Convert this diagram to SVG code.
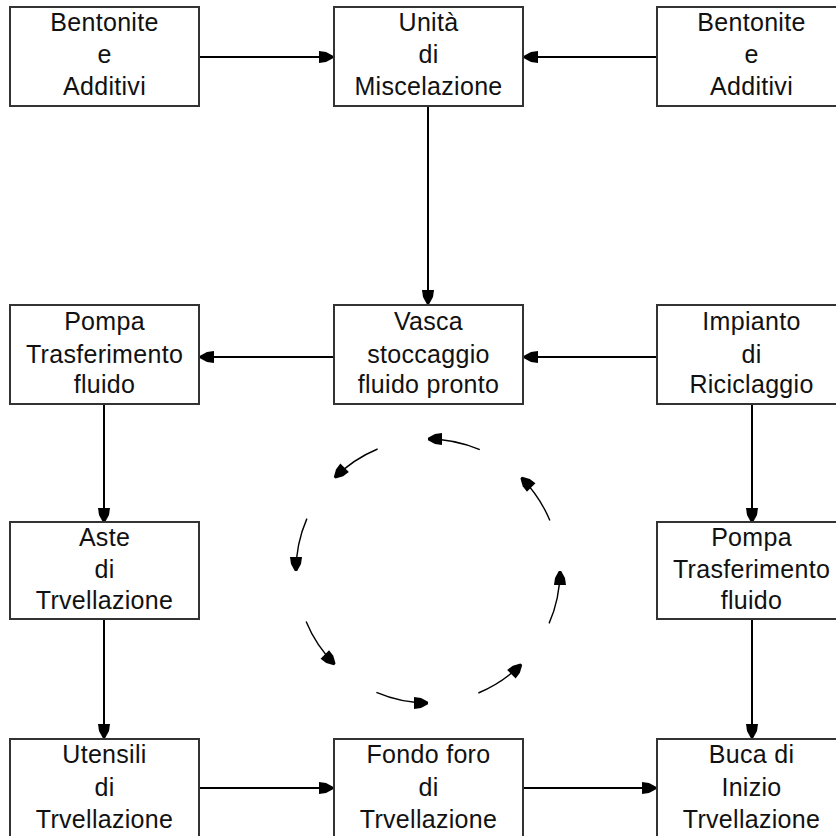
<svg xmlns="http://www.w3.org/2000/svg" width="836" height="836" viewBox="0 0 836 836">
<style>
.box{fill:#fff;stroke:#333;stroke-width:2}
.t{font-family:"Liberation Sans",Arial,sans-serif;font-size:25px;fill:#111;text-anchor:middle;letter-spacing:0.3px}
.c{fill:none;stroke:#000;stroke-width:2}
.a{fill:none;stroke:#000;stroke-width:1.4}
</style>
<defs>
<marker id="ah" viewBox="-15 -7 16 14" refX="0" refY="0" markerWidth="16" markerHeight="14" markerUnits="userSpaceOnUse" orient="auto">
<path d="M-14,-6 L-7,-5 L0,-1.2 L0,1.2 L-7,5 L-14,6 Z" fill="#000"/>
</marker>
</defs>
<rect width="836" height="836" fill="#fff"/>
<g id="connectors">
<line class="c" x1="199" y1="57" x2="333" y2="57" marker-end="url(#ah)"/>
<line class="c" x1="657" y1="57" x2="524" y2="57" marker-end="url(#ah)"/>
<line class="c" x1="428" y1="106" x2="428" y2="304" marker-end="url(#ah)"/>
<line class="c" x1="334" y1="357" x2="200" y2="357" marker-end="url(#ah)"/>
<line class="c" x1="657" y1="357" x2="524" y2="357" marker-end="url(#ah)"/>
<line class="c" x1="104" y1="404" x2="104" y2="522" marker-end="url(#ah)"/>
<line class="c" x1="752" y1="404" x2="752" y2="522" marker-end="url(#ah)"/>
<line class="c" x1="104" y1="619" x2="104" y2="738" marker-end="url(#ah)"/>
<line class="c" x1="752" y1="619" x2="752" y2="738" marker-end="url(#ah)"/>
<line class="c" x1="199" y1="788" x2="333" y2="788" marker-end="url(#ah)"/>
<line class="c" x1="523" y1="788" x2="656" y2="788" marker-end="url(#ah)"/>
</g>
<g id="cycle">
<path class="a" d="M479.8,449.7 A132,132 0 0 0 428,439" marker-end="url(#ah)"/>
<path class="a" d="M377.6,449.0 A132,132 0 0 0 334.7,477.7" marker-end="url(#ah)"/>
<path class="a" d="M306.9,518.6 A132,132 0 0 0 296,571" marker-end="url(#ah)"/>
<path class="a" d="M306.1,621.4 A132,132 0 0 0 334.7,664.3" marker-end="url(#ah)"/>
<path class="a" d="M376.4,692.4 A132,132 0 0 0 428,703" marker-end="url(#ah)"/>
<path class="a" d="M478.4,693.0 A132,132 0 0 0 521.3,664.3" marker-end="url(#ah)"/>
<path class="a" d="M549.1,623.4 A132,132 0 0 0 560,571" marker-end="url(#ah)"/>
<path class="a" d="M549.9,520.6 A132,132 0 0 0 521.3,477.7" marker-end="url(#ah)"/>
</g>
<g id="n1"><rect class="box" x="10" y="7" width="189" height="99"/>
<text class="t" x="104.5" y="31">Bentonite</text><text class="t" x="104.5" y="63">e</text><text class="t" x="104.5" y="95">Additivi</text></g>
<g id="n2"><rect class="box" x="334" y="7" width="189" height="99"/>
<text class="t" x="428.5" y="31">Unità</text><text class="t" x="428.5" y="63">di</text><text class="t" x="428.5" y="95">Miscelazione</text></g>
<g id="n3"><rect class="box" x="657" y="7" width="189" height="99"/>
<text class="t" x="751.5" y="31">Bentonite</text><text class="t" x="751.5" y="63">e</text><text class="t" x="751.5" y="95">Additivi</text></g>
<g id="n4"><rect class="box" x="10" y="305" width="189" height="99"/>
<text class="t" x="104.5" y="330">Pompa</text><text class="t" x="104.5" y="363">Trasferimento</text><text class="t" x="104.5" y="393">fluido</text></g>
<g id="n5"><rect class="box" x="334" y="305" width="189" height="99"/>
<text class="t" x="428.5" y="330">Vasca</text><text class="t" x="428.5" y="363">stoccaggio</text><text class="t" x="428.5" y="393">fluido pronto</text></g>
<g id="n6"><rect class="box" x="657" y="305" width="189" height="99"/>
<text class="t" x="751.5" y="330">Impianto</text><text class="t" x="751.5" y="363">di</text><text class="t" x="751.5" y="393">Riciclaggio</text></g>
<g id="n7"><rect class="box" x="10" y="522" width="189" height="97"/>
<text class="t" x="104.5" y="546">Aste</text><text class="t" x="104.5" y="578">di</text><text class="t" x="104.5" y="609">Trvellazione</text></g>
<g id="n8"><rect class="box" x="657" y="522" width="189" height="97"/>
<text class="t" x="751.5" y="546">Pompa</text><text class="t" x="751.5" y="578">Trasferimento</text><text class="t" x="751.5" y="609">fluido</text></g>
<g id="n9"><rect class="box" x="10" y="739" width="189" height="110"/>
<text class="t" x="104.5" y="763">Utensili</text><text class="t" x="104.5" y="796">di</text><text class="t" x="104.5" y="828">Trvellazione</text></g>
<g id="n10"><rect class="box" x="334" y="739" width="189" height="110"/>
<text class="t" x="428.5" y="763">Fondo foro</text><text class="t" x="428.5" y="796">di</text><text class="t" x="428.5" y="828">Trvellazione</text></g>
<g id="n11"><rect class="box" x="657" y="739" width="189" height="110"/>
<text class="t" x="751.5" y="763">Buca di</text><text class="t" x="751.5" y="796">Inizio</text><text class="t" x="751.5" y="828">Trvellazione</text></g>
</svg>
